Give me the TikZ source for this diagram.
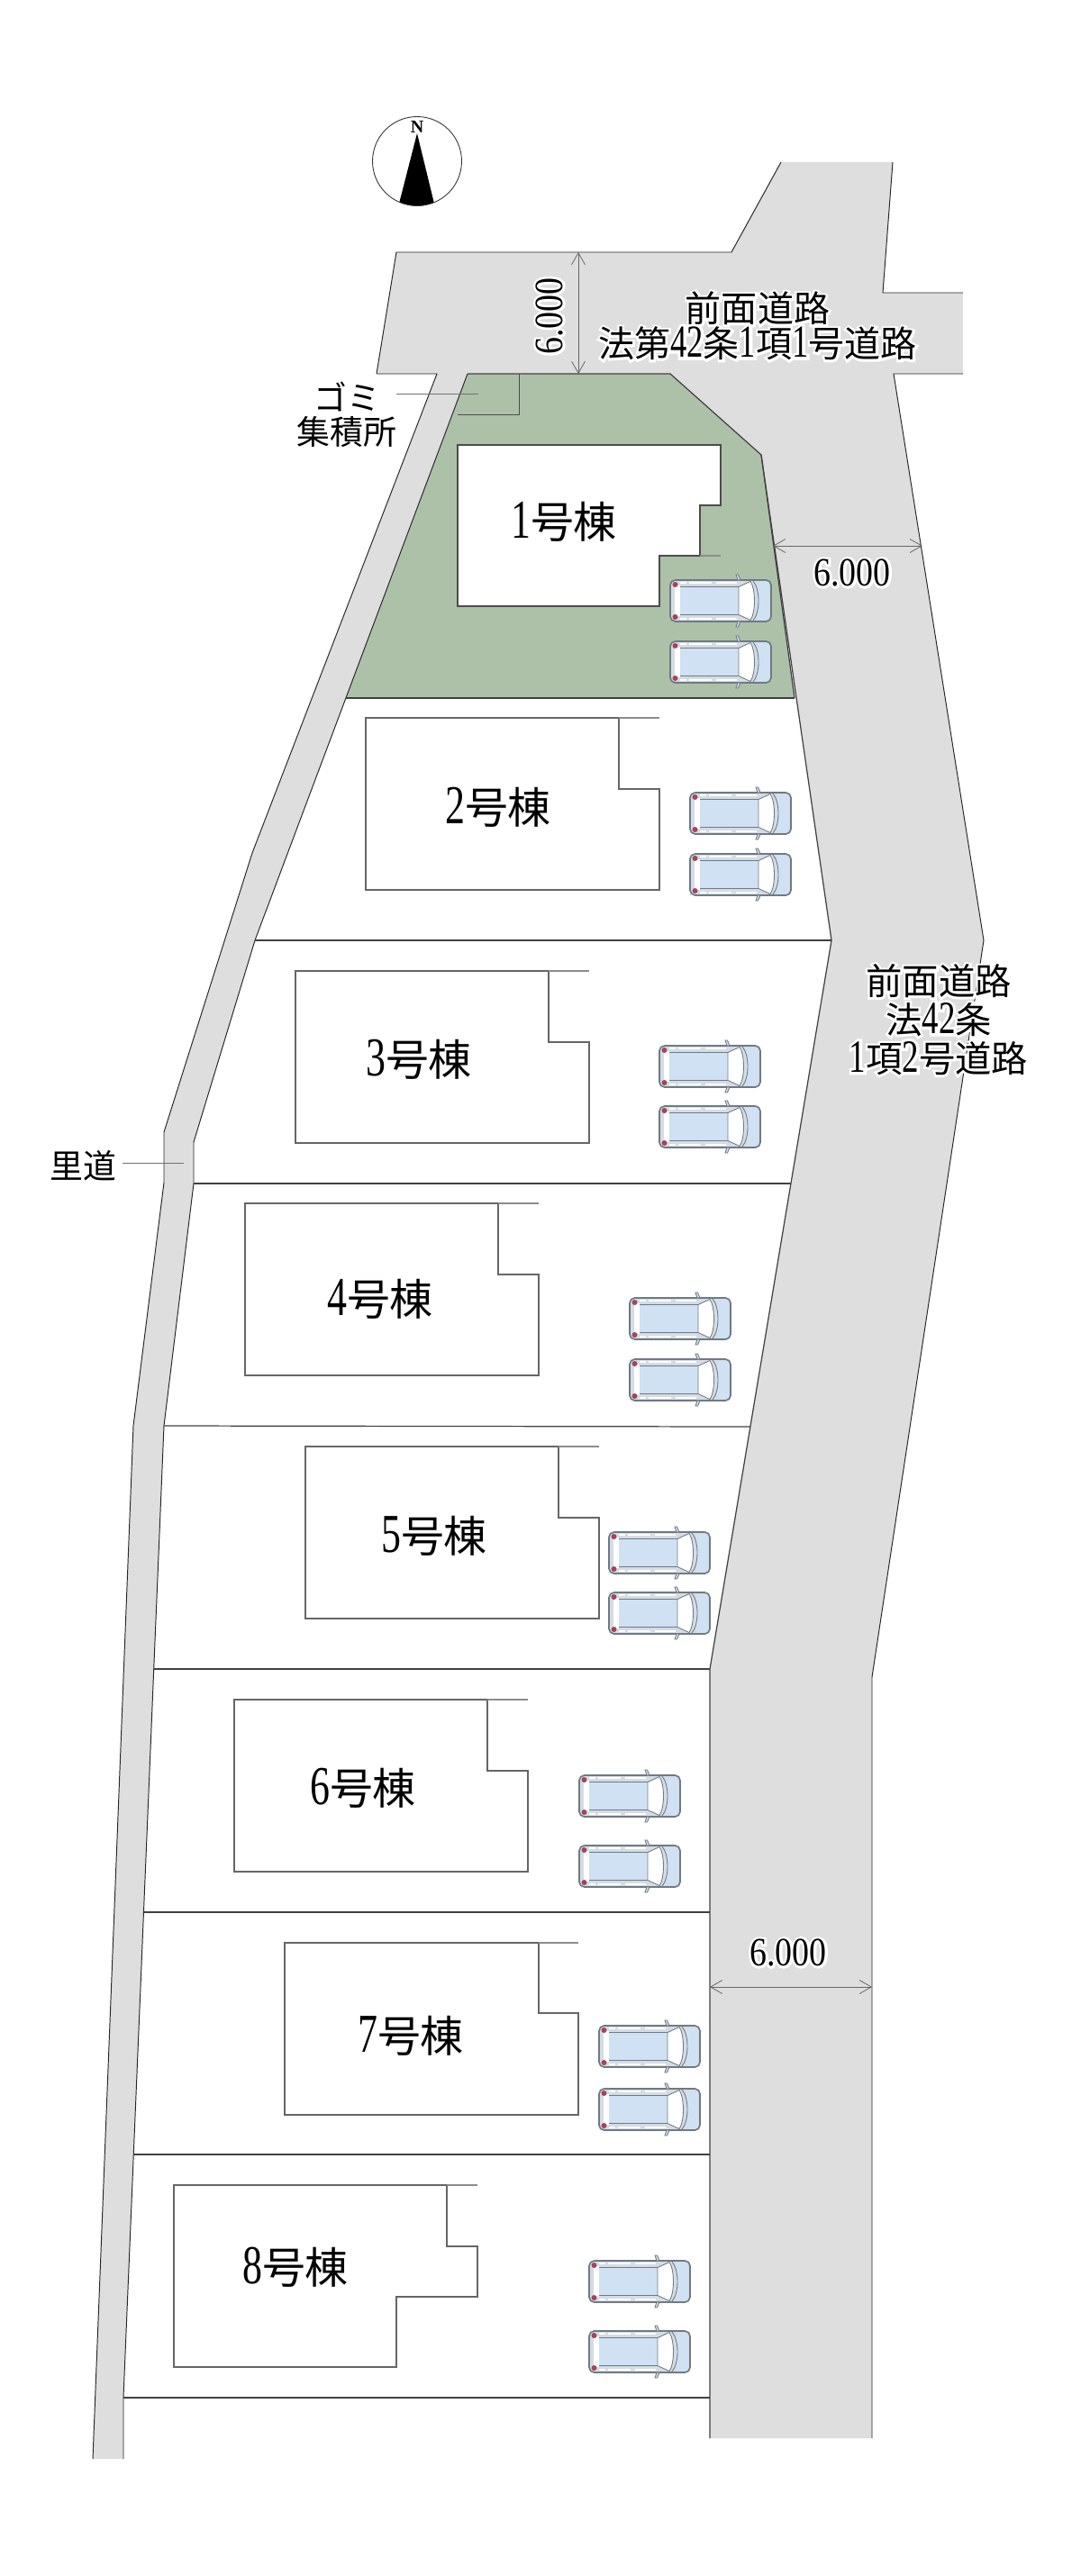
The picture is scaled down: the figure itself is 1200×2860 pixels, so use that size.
\documentclass[tikz,border=0pt]{standalone}
\usepackage{fontspec}
\usepackage{xcolor}
\setmainfont{Noto Sans CJK JP}
\newfontfamily\numfont[Scale=1.27,FakeStretch=0.72]{Liberation Serif}
\newfontfamily\northfont{Liberation Serif}
\newfontfamily\dimfont[Scale=1.27,FakeStretch=0.85]{Liberation Serif}
\newfontfamily\dimhalofont[Scale=1.27,FakeStretch=0.85,FakeBold=12]{Liberation Serif}
\newfontfamily\halofont[FakeBold=12]{Noto Sans CJK JP}
\newfontfamily\halonum[Scale=1.27,FakeStretch=0.72,FakeBold=12]{Liberation Serif}
\newcommand{\dg}[1]{{\numfont #1}}
\newcommand{\halo}[1]{\leavevmode\rlap{\color{white}\halofont\let\numfont\halonum #1}#1}
\newcommand{\dimval}[1]{\leavevmode\rlap{\color{white}\dimhalofont #1}{\dimfont #1}}
\usetikzlibrary{arrows.meta}
\definecolor{roadgray}{HTML}{DEDEDE}
\definecolor{lotgreen}{HTML}{ADC1A9}
\definecolor{carblue}{HTML}{CFE1F3}
\definecolor{carline}{HTML}{6F7A85}
\definecolor{carbody}{HTML}{D5DCE3}
\definecolor{carred}{HTML}{A5445A}
\tikzset{
>={Straight Barb[length=7.4pt,width=8.5pt]},
  edge/.style={draw=black!85, line width=0.55pt},
  lotline/.style={draw=black!75, line width=0.7pt},
  house/.style={draw=black!60, fill=white, line width=0.7pt},
  houseext/.style={draw=black!45, line width=0.7pt},
  leader/.style={draw=black!55, line width=0.4pt},
  dimline/.style={draw=black!60, line width=0.45pt, <->},
  bignum/.style={font=\fontsize{27.3pt}{30pt}\selectfont, inner sep=0pt},
  roadtxt/.style={font=\fontsize{22.8pt}{22.2pt}\selectfont, inner sep=0pt, align=center},
  sidetxt/.style={font=\fontsize{21pt}{21.6pt}\selectfont, inner sep=0pt, align=center},
  dimtxt/.style={font=\fontsize{20pt}{22pt}\selectfont, inner sep=0pt},
  pics/car/.style={
    code={
      \draw[draw=carline, line width=0.95pt, fill=carbody, rounded corners=3.2pt]
        (-56,-23) rectangle (56,23);
      \fill[carblue, rounded corners=2.5pt] (40,-21.5) -- (54,-21.5) -- (54,21.5) -- (40,21.5) -- cycle;
      \fill[white] (-51,-17) rectangle (-45,17);
      \fill[white] (-35,-21.2) rectangle (-10,-18.6);
      \fill[white] (-5,-21.2) rectangle (18,-18.6);
      \fill[white] (-35,21.2) rectangle (-10,18.6);
      \fill[white] (-5,21.2) rectangle (18,18.6);
      \fill[white] (-45,-21.2) rectangle (-38,-18.6);
      \fill[white] (-45,21.2) rectangle (-38,18.6);
      \fill[carblue] (-45,-15.5) rectangle (20,15.5);
      \draw[carline, line width=0.5pt] (-45,-15.5) -- (20,-15.5);
      \draw[carline, line width=0.5pt] (-45,15.5) -- (20,15.5);
      \draw[carline, line width=0.5pt, fill=white] (20,-15.5) -- (33,-21.5)
        .. controls (39,-13) and (39,13) .. (33,21.5) -- (20,15.5) -- cycle;
      \draw[carline, line width=0.5pt] (36,-22) .. controls (44,-13) and (44,13) .. (36,22);
      \fill[carred] (-50.5,-18) circle (3);
      \fill[carred] (-50.5,18) circle (3);
      \draw[carline, line width=0.5pt, fill=carbody] (17,-29) -- (19.5,-29) -- (22,-23) -- (19,-23) -- cycle;
      \draw[carline, line width=0.5pt, fill=carbody] (17,29) -- (19.5,29) -- (22,23) -- (19,23) -- cycle;
    }
  }
}
\begin{document}
\begin{tikzpicture}[x=0.02cm,y=-0.02cm]
    \useasboundingbox (0,0) rectangle (1200,2860);

    % front road, left side of it
    \coordinate (T1) at (440,280);
    \coordinate (T2) at (812,280);
    \coordinate (T3) at (867,180);
    \coordinate (T4) at (991,180);
    \coordinate (T5) at (980,325);
    \coordinate (T6) at (1069,325);
    \coordinate (T7) at (1069,415);
    \coordinate (T8) at (992,415);
    \coordinate (T9) at (418,415);

    \coordinate (R1) at (1092,1044);
    \coordinate (R2) at (968,1862);
    \coordinate (R3) at (968,2707);
    \coordinate (R4) at (788,2707);
    \coordinate (R5) at (788,1853);
    \coordinate (R6) at (923,1044);
    \coordinate (R7) at (845,505);
    \coordinate (R8) at (744,415);

    % back lane
    \coordinate (S1) at (485,415);
    \coordinate (S2) at (280,947);
    \coordinate (S3) at (182,1257);
    \coordinate (S4) at (182,1313);
    \coordinate (S5) at (148,1583);
    \coordinate (S6) at (103,2730);
    \coordinate (S7) at (137,2730);
    \coordinate (S8) at (137,2662);
    \coordinate (S9) at (182,1583);
    \coordinate (S10) at (215,1314);
    \coordinate (S11) at (215,1268);
    \coordinate (S12) at (283,1044);
    \coordinate (S13) at (519,415);
    \coordinate (S14) at (384,775);
    \coordinate (S15) at (882,775);

    \fill[roadgray] (T1) -- (T2) -- (T3) -- (T4) -- (T5) -- (T6) -- (T7) -- (T8)
                      -- (R1) -- (R2) -- (R3) -- (R4) -- (R5) -- (R6) -- (R7) -- (R8)
                      -- (T9) -- cycle;
    \fill[roadgray] (S1) -- (S2) -- (S3) -- (S4) -- (S5) -- (S6) -- (S7) -- (S8)
                      -- (S9) -- (S10) -- (S11) -- (S12) -- (S13) -- cycle;
    \fill[lotgreen] (S13) -- (R8) -- (R7) -- (S15) -- (S14) -- cycle;

    \draw[edge] (T9) -- (T1) -- (T2) -- (T3);
    \draw[edge] (T4) -- (T5) -- (T6);
    \draw[edge] (T7) -- (T8) -- (R1) -- (R2) -- (R3);
    \draw[edge] (T9) -- (S1) -- (S2) -- (S3) -- (S4) -- (S5) -- (S6);
    \draw[edge] (S7) -- (S8) -- (S9) -- (S10) -- (S11) -- (S12) -- (S13);
    \draw[lotline] (S13) -- (R8) -- (R7) -- (R6) -- (R5) -- (R4);
    \draw[lotline] (R7) -- (S15);

    % waste corner
    \coordinate (G1) at (576,415);
    \coordinate (G2) at (576,460);
    \coordinate (G3) at (508,460);
    \draw[leader, draw=black!70] (G1) -- (G2) -- (G3);

    % lot lines
    \coordinate (B3) at (878,1314);
    \coordinate (B4) at (833,1584);
    \coordinate (B5) at (171,1853);
    \coordinate (B6) at (160,2123);
    \coordinate (B6r) at (788,2123);
    \coordinate (B7) at (148,2392);
    \coordinate (B7r) at (788,2392);
    \coordinate (B8r) at (788,2662);

    \draw[lotline] (S14) -- (S15);
    \draw[lotline] (S12) -- (R6);
    \draw[lotline] (S10) -- (B3);
    \draw[lotline] (S9) -- (B4);
    \draw[lotline] (B5) -- (R5);
    \draw[lotline] (B6) -- (B6r);
    \draw[lotline] (B7) -- (B7r);
    \draw[lotline] (S8) -- (B8r);

    %%% houses
    \draw[house, draw=black!70] (508,494) -- (800,494) -- (800,561) -- (777,561) -- (777,617)
                      -- (732,617) -- (732,673) -- (508,673) -- cycle;
    \draw[houseext] (777,617) -- (800,617);
    \draw[house] (406,797) -- (687,797) -- (687,876) -- (732,876)
                      -- (732,988) -- (406,988) -- cycle;
    \draw[houseext] (687,797) -- (732,797);
    \draw[house] (328,1078) -- (609,1078) -- (609,1157) -- (654,1157)
                      -- (654,1269) -- (328,1269) -- cycle;
    \draw[houseext] (609,1078) -- (654,1078);
    \draw[house] (272,1336) -- (553,1336) -- (553,1415) -- (598,1415)
                      -- (598,1527) -- (272,1527) -- cycle;
    \draw[houseext] (553,1336) -- (598,1336);
    \draw[house] (339,1606) -- (620,1606) -- (620,1685) -- (665,1685)
                      -- (665,1797) -- (339,1797) -- cycle;
    \draw[houseext] (620,1606) -- (665,1606);
    \draw[house] (260,1887) -- (541,1887) -- (541,1966) -- (586,1966)
                      -- (586,2078) -- (260,2078) -- cycle;
    \draw[houseext] (541,1887) -- (586,1887);
    \draw[house] (316,2157) -- (598,2157) -- (598,2235) -- (642,2235)
                      -- (642,2348) -- (316,2348) -- cycle;
    \draw[houseext] (598,2157) -- (642,2157);
    \draw[house] (193,2426) -- (496,2426) -- (496,2494) -- (530,2494)
                      -- (530,2550) -- (440,2550) -- (440,2628) -- (193,2628) -- cycle;
    \draw[houseext] (496,2426) -- (530,2426);

    \node[bignum] (h1) at (626,579) {\dg{1}号棟};
    \node[bignum] (h2) at (553,896) {\dg{2}号棟};
    \node[bignum] (h3) at (465,1176) {\dg{3}号棟};
    \node[bignum] (h4) at (422,1442) {\dg{4}号棟};
    \node[bignum] (h5) at (482,1705) {\dg{5}号棟};
    \node[bignum] (h6) at (403,1985) {\dg{6}号棟};
    \node[bignum] (h7) at (456,2260) {\dg{7}号棟};
    \node[bignum] (h8) at (328,2517) {\dg{8}号棟};

    %%% cars
    \pic at (800,667) {car};
    \pic at (800,735) {car};
    \pic at (822,903) {car};
    \pic at (822,971) {car};
    \pic at (788,1184) {car};
    \pic at (788,1251) {car};
    \pic at (755,1464) {car};
    \pic at (755,1532) {car};
    \pic at (732,1724) {car};
    \pic at (732,1791) {car};
    \pic at (699,1994) {car};
    \pic at (699,2072) {car};
    \pic at (721,2272) {car};
    \pic at (721,2342) {car};
    \pic at (710,2533) {car};
    \pic at (710,2611) {car};

    %%% dimensions
    \coordinate (D1) at (642,280);
    \coordinate (D2) at (642,415);
    \coordinate (D3) at (858,606);
    \coordinate (D4) at (1024,606);
    \coordinate (D5) at (788,2206);
    \coordinate (D6) at (968,2206);
    \draw[dimline] (D1) -- (D2);
    \draw[dimline] (D3) -- (D4);
    \draw[dimline] (D5) -- (D6);
    \node[dimtxt, rotate=90] (dimtop) at (610,351) {\dimval{6.000}};
    \node[dimtxt] (dimright) at (946,636) {\dimval{6.000}};
    \node[dimtxt] (dimbottom) at (875,2168) {\dimval{6.000}};

    %%% texts
    \node[roadtxt] (roadtop) at (841,362) {\halo{前面道路}\\\halo{法第\dg{42}条\dg{1}項\dg{1}号道路}};
    \node[roadtxt, font=\fontsize{23pt}{24.4pt}\selectfont] (roadright) at (1042,1132)
        {\halo{前面道路}\\\halo{法\dg{42}条}\\\halo{\dg{1}項\dg{2}号道路}};
    \node[sidetxt] (gomi) at (385,460) {ゴミ\\集積所};
    \node[sidetxt] (sato) at (92,1294) {里道};

    \coordinate (gomistart) at (440,437);
    \coordinate (gomiend) at (531,437);
    \coordinate (satostart) at (136,1291);
    \coordinate (satoend) at (204,1291);
    \draw[leader] (gomistart) -- (gomiend);
    \draw[leader] (satostart) -- (satoend);

    %%% north mark
    \coordinate (north) at (463,179);
    \begin{scope}
      \clip (north) circle (49.5);
      \fill[black] (463,148) -- (443,226) -- (463,240) -- (482,226) -- cycle;
    \end{scope}
    \draw[black!80, line width=0.5pt] (north) circle (49.5);
    \node[inner sep=0pt, font=\fontsize{11.4pt}{12pt}\selectfont\northfont\bfseries] (northlbl) at (463,141) {N};
\end{tikzpicture}
\end{document}
